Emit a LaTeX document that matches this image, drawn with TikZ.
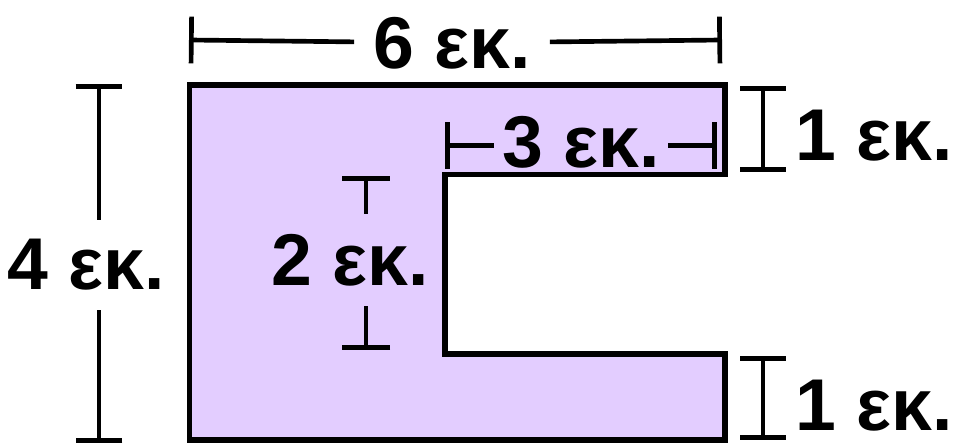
\documentclass[tikz,border=0pt]{standalone}
\usepackage{fontspec}
\setmainfont{Liberation Sans}
\usetikzlibrary{arrows.meta}
\definecolor{shapefill}{RGB}{227,205,255}
\tikzset{every picture/.style={line width=0.75pt}}
\tikzset{
	dimline/.style={line width=3.5pt},
	dimlabel/.style={font=\fontsize{55}{60}\selectfont\bfseries, inner sep=0pt}}

\begin{document}
\begin{tikzpicture}[x=0.75pt,y=0.75pt,yscale=-1,xscale=1]
	\useasboundingbox (0,0) rectangle (957,448);

	%Shape: Polygon [id:shapeC] 
	\draw [fill=shapefill, line width=4pt] (189.5,85) -- (725,85) -- (725,174.5) -- (445,174.5) -- (445,354) -- (725,354) -- (725,440) -- (189.5,440) -- cycle ;

	% Text Node
	\node [dimlabel, inner xsep=14pt] (lblsix) at (452,43) {6 εκ.};
	% Text Node
	\node [dimlabel, inner xsep=6pt] (lblthree) at (581,142) {3 εκ.};
	% Text Node
	\node [dimlabel] (lbloneup) at (874,136) {1 εκ.};
	% Text Node
	\node [dimlabel] (lblonedown) at (874,406) {1 εκ.};
	% Text Node
	\node [dimlabel, inner ysep=14pt] (lblfour) at (86,265) {4 εκ.};
	% Text Node
	\node [dimlabel, inner ysep=15pt] (lbltwo) at (350,260) {2 εκ.};

	\coordinate (sixleft) at (189,40);
	\coordinate (sixright) at (722,40);
	\coordinate (threeleft) at (445,145.5);
	\coordinate (threeright) at (717,145.5);
	\coordinate (oneuptop) at (763,86);
	\coordinate (oneupbot) at (763,172);
	\coordinate (onedowntop) at (763,356);
	\coordinate (onedownbot) at (763,440);
	\coordinate (fourtop) at (99,84);
	\coordinate (fourbot) at (99,443);
	\coordinate (twotop) at (366,176);
	\coordinate (twobot) at (366,350);

	%Straight Lines [id:dimsix] 
	\draw [dimline, {Bar[width=35pt]}-] (sixleft) -- (lblsix) ;
	\draw [dimline, {Bar[width=35pt]}-] (sixright) -- (lblsix) ;
	%Straight Lines [id:dimthree] 
	\draw [dimline, {Bar[width=35pt]}-] (threeleft) -- (lblthree.west |- threeleft) ;
	\draw [dimline, {Bar[width=35pt]}-] (threeright) -- (lblthree.east |- threeright) ;
	%Straight Lines [id:dimone] 
	\draw [dimline, {Bar[width=34pt]}-{Bar[width=34pt]}] (oneuptop) -- (oneupbot) ;
	\draw [dimline, {Bar[width=34pt]}-{Bar[width=34pt]}] (onedowntop) -- (onedownbot) ;
	%Straight Lines [id:dimfour] 
	\draw [dimline, {Bar[width=35pt]}-] (fourtop) -- (fourtop |- lblfour.north) ;
	\draw [dimline, {Bar[width=35pt]}-] (fourbot) -- (fourbot |- lblfour.south) ;
	%Straight Lines [id:dimtwo] 
	\draw [dimline, {Bar[width=36pt]}-] (twotop) -- (twotop |- lbltwo.north) ;
	\draw [dimline, {Bar[width=36pt]}-] (twobot) -- (twobot |- lbltwo.south) ;

\end{tikzpicture}
\end{document}
